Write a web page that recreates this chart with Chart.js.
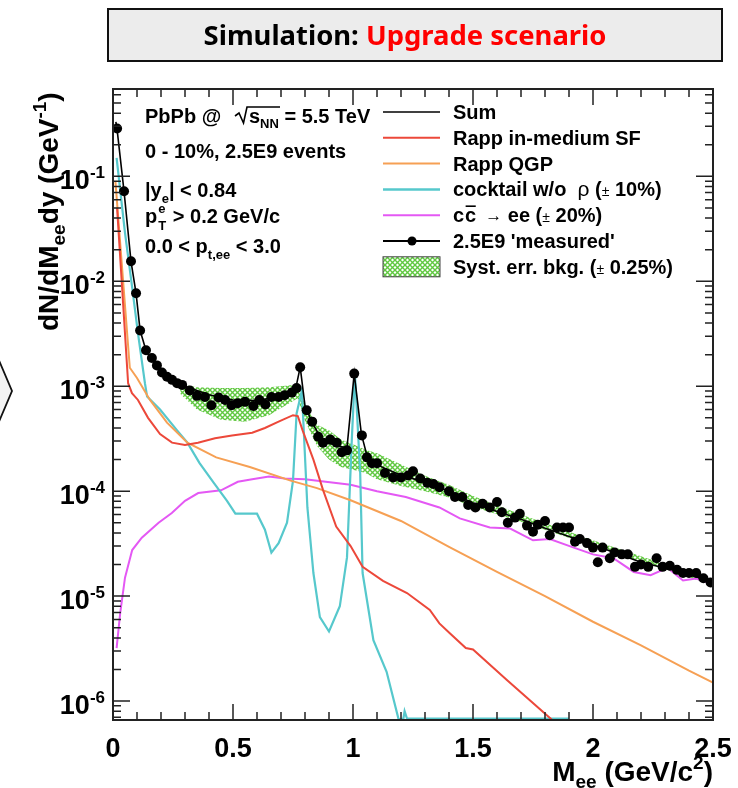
<!DOCTYPE html>
<html>
<head>
<meta charset="utf-8">
<script src="https://cdn.jsdelivr.net/npm/chart.js@4.4.1/dist/chart.umd.min.js"></script>
<style>
  html, body { margin: 0; padding: 0; background: #fff; }
  #wrap { width: 738px; height: 788px; position: relative; overflow: hidden; }
</style>
</head>
<body>
<div id="wrap"><canvas id="myChart" width="738" height="788"></canvas></div>
<script>
/* ---------- DATA ---------- */

// measured points
const measMass = [0.017,0.046,0.075,0.096,0.113,0.1375,0.162,0.183,0.204,0.225,0.246,0.267,0.288,0.32,0.35,0.383,0.41,0.44,0.467,0.494,
  0.52,0.55,0.585,0.61,0.635,0.66,0.69,0.715,0.745,0.765,0.78,0.807,0.83,0.855,0.875,0.905,0.932,0.953,0.975,1.005,
  1.037,1.058,1.079,1.10,1.133,1.167,1.20,1.23,1.25,1.28,1.31,1.335,1.36,1.40,1.425,1.455,1.48,1.51,1.54,1.57,
  1.60,1.62,1.645,1.675,1.695,1.725,1.75,1.77,1.80,1.82,1.85,1.875,1.90,1.925,1.945,1.975,2.0,2.02,2.04,2.07,
  2.09,2.12,2.145,2.175,2.20,2.23,2.265,2.29,2.32,2.35,2.375,2.40,2.43,2.46,2.49];
const measYield = [0.286,0.072,0.0155,0.0077,0.0034,0.0022,0.00186,0.00158,0.00135,0.00123,0.00115,0.00107,0.00103,0.00091,0.00081,0.00079,0.00066,0.00078,0.00074,0.00066,
  0.00069,0.00071,0.00065,0.00074,0.00067,0.00079,0.00079,0.00082,0.00087,0.00096,0.00152,0.00059,0.00046,0.00033,0.00029,0.00031,0.00029,0.000235,0.000245,0.00132,
  0.00034,0.00021,0.000185,0.000185,0.000149,0.000135,0.000135,0.000141,0.000155,0.000132,0.00012,0.000117,0.000109,0.0001,0.000088,0.000088,0.000074,0.00007,0.000076,0.00007,
  0.000079,0.000063,0.00005,0.000056,0.000061,0.000047,0.000041,0.000048,0.000052,0.000038,0.000045,0.000045,0.000045,0.000033,0.000035,0.000032,0.000029,0.000021,0.000029,0.000023,
  0.000026,0.000025,0.000025,0.000019,0.00002,0.000019,0.000023,0.000019,0.0000195,0.0000178,0.0000166,0.0000166,0.0000166,0.0000148,0.0000135];

// Sum
const sumMass = [0.012,0.017,0.046,0.075,0.096,0.113,0.14,0.2,0.3,0.4,0.5,0.6,0.7,0.76,0.78,0.80,0.83,0.87,0.93,0.975,
  1.005,1.035,1.06,1.1,1.2,1.3,1.4,1.5,1.6,1.7,1.78,1.9,2.06,2.2,2.33,2.45,2.5];
const sumYield = [0.33,0.28,0.072,0.0155,0.0077,0.0034,0.0021,0.0014,0.001,0.00083,0.00074,0.00073,0.0008,0.00092,0.00152,0.00065,0.00045,0.00031,0.00027,0.00026,
  0.00132,0.00035,0.00021,0.000178,0.000142,0.000122,0.0001,0.000077,0.000064,0.000054,0.000046,0.000037,0.0000275,0.000021,0.0000178,0.0000148,0.0000135];

// Rapp in-medium SF
const sfMass = [0.017,0.063,0.079,0.104,0.146,0.196,0.246,0.30,0.354,0.425,0.496,0.58,0.633,0.69,0.75,0.77,0.79,0.835,0.875,0.93,
  0.99,1.04,1.125,1.225,1.32,1.36,1.40,1.47,1.50,1.64,1.83,1.95];
const sfYield = [0.05,0.00107,0.00086,0.00074,0.0005,0.00035,0.00029,0.000275,0.00029,0.00032,0.00034,0.00036,0.0004,0.00046,0.00053,0.00052,0.00038,0.0002,0.000103,0.000046,
  0.00003,0.000019,0.000014,0.0000107,0.0000074,0.0000055,0.0000045,0.0000032,0.0000031,0.0000016,0.00000066,0.00000035];

// Rapp QGP
const qgpMass = [0.01,0.07,0.1,0.154,0.225,0.31,0.43,0.57,0.74,0.85,0.99,1.2,1.4,1.6,1.8,2.0,2.2,2.4,2.5];
const qgpYield = [0.09,0.0015,0.0012,0.00074,0.00045,0.00029,0.00021,0.00017,0.000126,0.000107,0.000082,0.000052,0.0000295,0.000017,0.00001,0.0000057,0.0000034,0.00000195,0.0000015];

// cocktail w/o rho
const cockMass = [0.015,0.05,0.08,0.104,0.133,0.142,0.196,0.267,0.31,0.36,0.42,0.475,0.51,0.60,0.633,0.66,0.69,0.725,0.75,0.765,
  0.787,0.81,0.835,0.862,0.90,0.945,0.975,0.995,1.008,1.03,1.04,1.085,1.14,1.19,1.21,1.215,1.225,1.9];
const cockYield = [0.15,0.029,0.0087,0.0032,0.00107,0.0008,0.0006,0.00038,0.00029,0.000186,0.00012,0.000081,0.000061,0.000061,0.000043,0.000026,0.000032,0.00005,0.000126,0.00055,
  0.00091,0.00007,0.0000166,0.0000063,0.0000046,0.000008,0.0000234,0.00031,0.00132,0.000148,0.0000166,0.0000038,0.0000019,0.00000067,0.00000068,0.0000008,0.00000068,0.00000068];

// c cbar -> ee
const ccMass = [0.015,0.03,0.05,0.08,0.12,0.19,0.245,0.30,0.355,0.45,0.52,0.58,0.65,0.715,0.80,0.99,1.10,1.22,1.36,1.445,
  1.57,1.655,1.75,1.82,1.92,2.0,2.085,2.17,2.24,2.31,2.375,2.43,2.49];
const ccYield = [3.2e-6,6.9e-6,1.5e-5,2.75e-5,3.6e-5,5e-5,6.2e-5,8.1e-5,9.6e-5,1.02e-4,1.23e-4,1.3e-4,1.38e-4,1.32e-4,1.3e-4,1.15e-4,1.0e-4,8.8e-5,7.0e-5,5.5e-5,
  4.5e-5,4.4e-5,3.4e-5,3.5e-5,2.9e-5,2.5e-5,2.3e-5,1.7e-5,1.58e-5,1.86e-5,1.41e-5,1.47e-5,1.32e-5];

// syst. err. band
const bandMass = [0.28,0.35,0.45,0.55,0.65,0.72,0.77,0.80,0.85,0.9,0.95,1.0,1.05,1.1,1.2,1.3,1.4,1.5,1.7,2.0,2.5];
const bandHigh = [0.00105,0.00098,0.00096,0.00096,0.00098,0.00101,0.00104,0.00066,0.00043,0.00038,0.00031,0.00028,0.00025,0.00023,0.00018,0.00014,0.000115,0.00009,0.00006,0.000034,0.0000142];
const bandLow  = [0.00085,0.0006,0.00048,0.00046,0.00053,0.00066,0.00077,0.00047,0.00027,0.0002,0.00017,0.00016,0.00015,0.00013,0.000112,0.0001,0.000087,0.000071,0.000051,0.00003,0.0000127];

// axes
const xTickValues = [0, 0.5, 1, 1.5, 2, 2.5];
const xTickLabels = ["0", "0.5", "1", "1.5", "2", "2.5"];
const yTickExponents = [-1, -2, -3, -4, -5, -6];
const yMin = 6.6e-7, yMax = 0.68;

/* ---------- STYLE ---------- */

const FONT = '"Liberation Sans", Arial, Helvetica, sans-serif';
const cRed = "rgb(236,72,58)";
const cOrange = "rgb(246,160,84)";
const cCyan = "rgb(86,200,204)";
const cMagenta = "rgb(228,88,244)";
const cGreen = "rgb(96,200,64)";

function pts(xs, ys) {
  return xs.map((x, i) => ({ x: x, y: ys[i] }));
}

function hatchPattern() {
  const c = document.createElement("canvas");
  c.width = 5; c.height = 5;
  const g = c.getContext("2d");
  g.strokeStyle = cGreen;
  g.lineWidth = 1.4;
  g.beginPath();
  g.moveTo(0, 0); g.lineTo(5, 5);
  g.moveTo(5, 0); g.lineTo(0, 5);
  g.stroke();
  return g.createPattern(c, "repeat");
}
const hatch = hatchPattern();

function fnt(size, weight) {
  return (weight || "bold") + " " + size + "px " + FONT;
}

// parts: [text, size, dy, weight]
function runText(ctx, x, y, parts) {
  ctx.textAlign = "left";
  ctx.textBaseline = "alphabetic";
  for (const p of parts) {
    ctx.font = fnt(p[1], p[3]);
    ctx.fillText(p[0], x, y + (p[2] || 0));
    x += ctx.measureText(p[0]).width;
  }
  return x;
}
function runWidth(ctx, parts) {
  let w = 0;
  for (const p of parts) {
    ctx.font = fnt(p[1], p[3]);
    w += ctx.measureText(p[0]).width;
  }
  return w;
}

/* ---------- BACKGROUND: title box and slide arrow ---------- */

const slideDecor = {
  id: "slideDecor",
  beforeDraw(chart) {
    const ctx = chart.ctx;
    ctx.save();
    ctx.fillStyle = "#fff";
    ctx.fillRect(0, 0, chart.width, chart.height);

    // title box
    ctx.fillStyle = "#ececec";
    ctx.fillRect(108, 9, 614, 52);
    ctx.strokeStyle = "#111";
    ctx.lineWidth = 2;
    ctx.strokeRect(108, 9, 614, 52);

    const tFont = '"Noto Sans", "Open Sans", sans-serif';
    const a = "Simulation: ", b = "Upgrade scenario";
    ctx.font = "bold 25px " + tFont;
    let w = ctx.measureText(a + b).width;
    const size = Math.max(18, Math.min(30, 25 * 403 / w));
    ctx.font = "bold " + size + "px " + tFont;
    const wa = ctx.measureText(a).width;
    w = ctx.measureText(a + b).width;
    const x0 = 405 - w / 2;
    ctx.textBaseline = "alphabetic";
    ctx.textAlign = "left";
    ctx.fillStyle = "#000";
    ctx.fillText(a, x0, 45);
    ctx.fillStyle = "#ff0000";
    ctx.fillText(b, x0 + wa, 45);

    // arrow shape at left edge
    ctx.beginPath();
    ctx.moveTo(-2, 358);
    ctx.lineTo(12, 391);
    ctx.lineTo(-2, 424);
    ctx.closePath();
    ctx.fillStyle = "#f3f3f3";
    ctx.fill();
    ctx.strokeStyle = "#111";
    ctx.lineWidth = 1.8;
    ctx.stroke();
    ctx.restore();
  }
};

/* ---------- FRAME, TICKS, LABELS, LEGEND ---------- */

const rootFrame = {
  id: "rootFrame",
  afterDraw(chart) {
    const { ctx, chartArea: a } = chart;
    const xs = chart.scales.x, ys = chart.scales.y;
    ctx.save();

    // ticks
    ctx.strokeStyle = "#222";
    ctx.lineWidth = 1.5;
    ctx.beginPath();
    for (let i = 0; i <= 25; i++) {
      const v = i / 10;
      const px = xs.getPixelForValue(v);
      const L = (i % 5 === 0) ? 16 : 8;
      ctx.moveTo(px, a.bottom); ctx.lineTo(px, a.bottom - L);
      ctx.moveTo(px, a.top); ctx.lineTo(px, a.top + L);
    }
    for (let e = -7; e <= 0; e++) {
      for (let m = 1; m <= 9; m++) {
        const v = m * Math.pow(10, e);
        if (v < yMin || v > yMax) continue;
        const py = ys.getPixelForValue(v);
        const L = (m === 1) ? 17 : 8;
        ctx.moveTo(a.left, py); ctx.lineTo(a.left + L, py);
        ctx.moveTo(a.right, py); ctx.lineTo(a.right - L, py);
      }
    }
    ctx.stroke();

    // frame
    ctx.lineWidth = 2;
    ctx.strokeStyle = "#222";
    ctx.strokeRect(a.left, a.top, a.right - a.left, a.bottom - a.top);

    ctx.fillStyle = "#000";

    // x tick labels
    ctx.font = fnt(27);
    ctx.textAlign = "center";
    ctx.textBaseline = "alphabetic";
    xTickValues.forEach((v, i) => {
      ctx.fillText(xTickLabels[i], xs.getPixelForValue(v), 757);
    });

    // y tick labels
    yTickExponents.forEach(e => {
      const py = ys.getPixelForValue(Math.pow(10, e));
      const parts = [["10", 27, 0], [String(e), 17, -11]];
      const w = runWidth(ctx, parts);
      runText(ctx, 105 - w, py + 13, parts);
    });

    // x title
    const xt = [["M", 28, 0], ["ee", 19, 7], [" (GeV/c", 28, 0], ["2", 19, -12], [")", 28, 0]];
    runText(ctx, 713 - runWidth(ctx, xt), 781, xt);

    // y title
    ctx.save();
    ctx.translate(58, 331);
    ctx.rotate(-Math.PI / 2);
    runText(ctx, 0, 0, [["dN/dM", 28, 0], ["ee", 19, 7], ["dy (GeV", 28, 0], ["-1", 19, -12], [")", 28, 0]]);
    ctx.restore();

    // info text block
    let x = runText(ctx, 145, 123, [["PbPb @", 20, 0]]);
    ctx.strokeStyle = "#000";
    ctx.lineWidth = 1.6;
    ctx.beginPath();
    ctx.moveTo(235, 116); ctx.lineTo(239, 113); ctx.lineTo(243.5, 123);
    ctx.lineTo(247, 107); ctx.lineTo(280, 107);
    ctx.stroke();
    runText(ctx, 249, 123, [["s", 20, 0], ["NN", 13, 5], [" = 5.5 TeV", 20, 0]]);
    runText(ctx, 145, 158, [["0 - 10%, 2.5E9 events", 20, 0]]);
    runText(ctx, 145, 197, [["|y", 20, 0], ["e", 13, 6], ["| < 0.84", 20, 0]]);
    x = runText(ctx, 145, 223, [["p", 20, 0]]);
    ctx.font = fnt(13);
    ctx.fillText("e", x + 1, 213);
    ctx.fillText("T", x + 1, 230);
    runText(ctx, x + 10, 223, [[" > 0.2 GeV/c", 20, 0]]);
    runText(ctx, 145, 253, [["0.0 < p", 20, 0], ["t,ee", 13, 6], [" < 3.0", 20, 0]]);

    // legend
    const rows = [112, 137.8, 163.6, 189.4, 215.2, 241, 266.8];
    const lx0 = 383, lx1 = 440, tx = 453;
    const sample = (row, color, width) => {
      ctx.strokeStyle = color;
      ctx.lineWidth = width;
      ctx.beginPath();
      ctx.moveTo(lx0, rows[row]); ctx.lineTo(lx1, rows[row]);
      ctx.stroke();
    };
    sample(0, "#000", 1.6);
    sample(1, cRed, 2);
    sample(2, cOrange, 2);
    sample(3, cCyan, 2.5);
    sample(4, cMagenta, 2);
    sample(5, "#000", 2);
    ctx.fillStyle = "#000";
    ctx.beginPath();
    ctx.arc(412, rows[5], 4.5, 0, Math.PI * 2);
    ctx.fill();
    ctx.fillStyle = hatch;
    ctx.fillRect(lx0, rows[6] - 10, lx1 - lx0, 20);
    ctx.strokeStyle = "#444";
    ctx.lineWidth = 1;
    ctx.strokeRect(lx0, rows[6] - 10, lx1 - lx0, 20);

    ctx.fillStyle = "#000";
    runText(ctx, tx, rows[0] + 7, [["Sum", 20, 0]]);
    runText(ctx, tx, rows[1] + 7, [["Rapp in-medium SF", 20, 0]]);
    runText(ctx, tx, rows[2] + 7, [["Rapp QGP", 20, 0]]);
    runText(ctx, tx, rows[3] + 7, [["cocktail w/o  ", 20, 0], ["\u03c1", 21, 0, "normal"], [" (", 20, 0], ["\u00b1", 14, 0, "normal"], [" 10%)", 20, 0]]);
    x = runText(ctx, tx, rows[4] + 7, [["c", 20, 0]]);
    ctx.font = fnt(20);
    const cw = ctx.measureText("c").width;
    ctx.fillText("c", x + 1, rows[4] + 7);
    ctx.strokeStyle = "#000";
    ctx.lineWidth = 1.6;
    ctx.beginPath();
    ctx.moveTo(x + 1.5, rows[4] - 9); ctx.lineTo(x + cw + 0.5, rows[4] - 9);
    ctx.stroke();
    runText(ctx, x + cw + 10, rows[4] + 7, [["\u2192", 17, -1, "normal"], [" ee (", 20, 0], ["\u00b1", 14, 0, "normal"], [" 20%)", 20, 0]]);
    runText(ctx, tx, rows[5] + 7, [["2.5E9 'measured'", 20, 0]]);
    runText(ctx, tx, rows[6] + 7, [["Syst. err. bkg. (", 20, 0], ["\u00b1", 14, 0, "normal"], [" 0.25%)", 20, 0]]);

    ctx.restore();
  }
};

/* ---------- CHART ---------- */

const lineSet = (label, xs, ys, color, width) => ({
  label: label,
  data: pts(xs, ys),
  borderColor: color,
  borderWidth: width,
  pointRadius: 0,
  tension: 0,
  fill: false
});

const ctx = document.getElementById("myChart").getContext("2d");
new Chart(ctx, {
  type: "line",
  data: {
    datasets: [
      {
        label: "2.5E9 'measured'",
        data: pts(measMass, measYield),
        showLine: false,
        pointRadius: 5,
        pointBackgroundColor: "#000",
        pointBorderWidth: 0
      },
      lineSet("Sum", sumMass, sumYield, "#000", 1.6),
      lineSet("Rapp in-medium SF", sfMass, sfYield, cRed, 2),
      lineSet("Rapp QGP", qgpMass, qgpYield, cOrange, 2),
      lineSet("cocktail w/o rho", cockMass, cockYield, cCyan, 2.2),
      lineSet("c cbar -> ee", ccMass, ccYield, cMagenta, 2),
      {
        label: "band high",
        data: pts(bandMass, bandHigh),
        borderWidth: 0,
        borderColor: "rgba(0,0,0,0)",
        pointRadius: 0,
        tension: 0,
        fill: false
      },
      {
        label: "Syst. err. bkg.",
        data: pts(bandMass, bandLow),
        borderWidth: 0,
        borderColor: "rgba(0,0,0,0)",
        backgroundColor: hatch,
        pointRadius: 0,
        tension: 0,
        fill: "-1"
      }
    ]
  },
  options: {
    responsive: false,
    animation: false,
    devicePixelRatio: 1,
    layout: { padding: { left: 113, right: 25, top: 89, bottom: 68 } },
    plugins: {
      legend: { display: false },
      tooltip: { enabled: false }
    },
    scales: {
      x: { type: "linear", min: 0, max: 2.5, display: false },
      y: { type: "logarithmic", min: yMin, max: yMax, display: false }
    }
  },
  plugins: [slideDecor, rootFrame]
});
</script>
</body>
</html>
